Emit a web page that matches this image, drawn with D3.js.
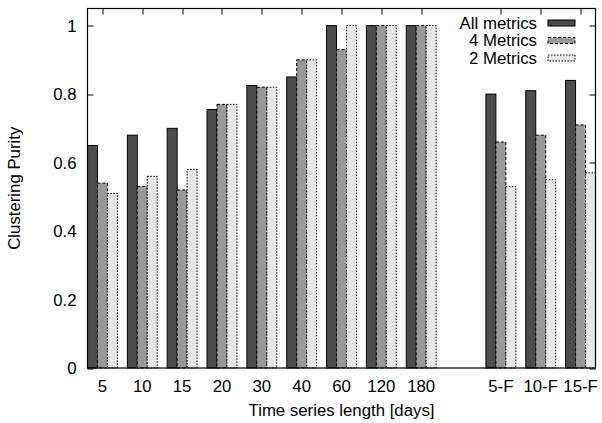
<!DOCTYPE html>
<html>
<head>
<meta charset="utf-8">
<script src="https://cdn.jsdelivr.net/npm/d3@7"></script>
<style>
  body { margin: 0; background: #fff; }
  svg { font-family: "Liberation Sans", Arial, sans-serif; }
  text { fill: #000; }
</style>
</head>
<body>
<svg id="chart" width="602" height="423"></svg>
<script>
'use strict';

// categorias (la cadena vacia es el hueco entre los dos bloques)
var categories = ['5', '10', '15', '20', '30', '40', '60', '120', '180', '', '5-F', '10-F', '15-F'];
var seriesNames = ['All metrics', '4 Metrics', '2 Metrics'];
var allMetrics = [0.65, 0.68, 0.70, 0.755, 0.825, 0.85, 1.0, 1.0, 1.0, null, 0.80, 0.81, 0.84];
var fourMetrics = [0.54, 0.53, 0.52, 0.77, 0.82, 0.90, 0.93, 1.0, 1.0, null, 0.66, 0.68, 0.71];
var twoMetrics = [0.51, 0.56, 0.58, 0.77, 0.82, 0.90, 1.0, 1.0, 1.0, null, 0.53, 0.55, 0.57];
var yTicks = [0, 0.2, 0.4, 0.6, 0.8, 1];

var series = [allMetrics, fourMetrics, twoMetrics];
var fills = ['#4d4d4d', '#999999', '#e6e6e6'];
var dashes = [null, '3,2', '1.5,1.5'];

var margin = { top: 8.5, right: 6.5, bottom: 55, left: 87.5 };
var svg = d3.select('#chart');
var W = +svg.attr('width');
var H = +svg.attr('height');
var width = W - margin.left - margin.right;
var height = H - margin.top - margin.bottom;
var fontSize = 16.8;

var x = d3.scaleLinear().domain([-0.375, categories.length - 1 + 0.375]).range([0, width]);
var y = d3.scaleLinear().domain([0, 1.05]).range([height, 0]);
var barW = x(0.25) - x(0);

var g = svg.append('g').attr('transform', 'translate(' + margin.left + ',' + margin.top + ')');

var tickIdx = d3.range(categories.length).filter(function (i) { return categories[i] !== ''; });

// marcas de los ejes (hacia dentro, como gnuplot)
var ticks = g.append('g').attr('class', 'ticks').attr('stroke', '#000').attr('stroke-width', 1);
tickIdx.forEach(function (i) {
    var px = Math.round(x(i)) + 0.5;
    ticks.append('line').attr('x1', px).attr('x2', px).attr('y1', 0).attr('y2', 6);
    ticks.append('line').attr('x1', px).attr('x2', px).attr('y1', height).attr('y2', height - 6);
});
yTicks.forEach(function (v) {
    var py = Math.round(y(v)) + 0.5;
    ticks.append('line').attr('x1', 0).attr('x2', 6).attr('y1', py).attr('y2', py);
    ticks.append('line').attr('x1', width).attr('x2', width - 6).attr('y1', py).attr('y2', py);
});

// barras
series.forEach(function (vals, s) {
    g.append('g').attr('class', 'bars s' + s)
        .selectAll('rect')
        .data(vals.map(function (v, i) { return { v: v, i: i }; }).filter(function (d) { return d.v !== null; }))
        .enter().append('rect')
        .attr('x', function (d) { return x(d.i) + (s - 1.5) * barW; })
        .attr('width', barW)
        .attr('y', function (d) { return y(d.v); })
        .attr('height', function (d) { return y(0) - y(d.v); })
        .attr('fill', fills[s])
        .attr('stroke', '#000')
        .attr('stroke-width', 1)
        .attr('stroke-dasharray', dashes[s]);
});

// marco
g.append('rect')
    .attr('x', 0).attr('y', 0)
    .attr('width', width).attr('height', height)
    .attr('fill', 'none').attr('stroke', '#000').attr('stroke-width', 1.2);

// etiquetas del eje x
g.append('g').selectAll('text')
    .data(tickIdx)
    .enter().append('text')
    .attr('x', function (i) { return x(i); })
    .attr('y', height + 24)
    .attr('text-anchor', 'middle')
    .attr('font-size', fontSize)
    .text(function (i) { return categories[i]; });

// etiquetas del eje y
g.append('g').selectAll('text')
    .data(yTicks)
    .enter().append('text')
    .attr('x', -11)
    .attr('y', function (v) { return y(v); })
    .attr('dy', '0.36em')
    .attr('text-anchor', 'end')
    .attr('font-size', fontSize)
    .text(function (v) { return d3.format('~g')(v); });

// titulos
svg.append('text')
    .attr('x', margin.left + width / 2)
    .attr('y', 416)
    .attr('text-anchor', 'middle')
    .attr('font-size', fontSize)
    .text('Time series length [days]');

svg.append('text')
    .attr('transform', 'translate(20,' + (margin.top + height / 2) + ') rotate(-90)')
    .attr('text-anchor', 'middle')
    .attr('font-size', fontSize)
    .text('Clustering Purity');

// leyenda
var legend = svg.append('g').attr('class', 'legend');
seriesNames.forEach(function (name, s) {
    var base = 28.5 + s * 17.5;
    legend.append('text')
        .attr('x', 537)
        .attr('y', base)
        .attr('text-anchor', 'end')
        .attr('font-size', fontSize)
        .text(name);
    legend.append('rect')
        .attr('x', 548).attr('y', base - 8.5)
        .attr('width', 27).attr('height', 6)
        .attr('fill', fills[s])
        .attr('stroke', '#000')
        .attr('stroke-width', 1)
        .attr('stroke-dasharray', dashes[s]);
});
</script>
</body>
</html>
